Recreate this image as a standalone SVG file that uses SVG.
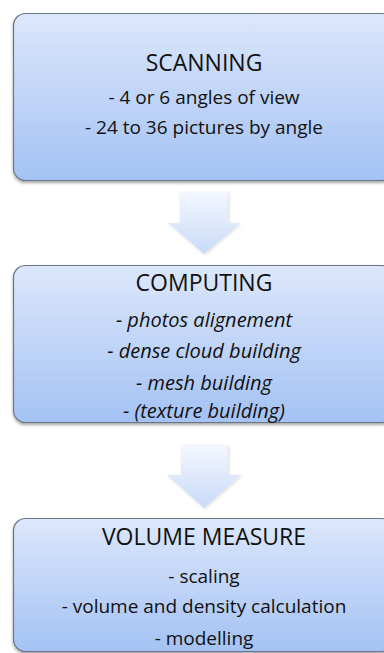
<svg xmlns="http://www.w3.org/2000/svg" width="384" height="653" viewBox="0 0 384 653">
<defs>
<linearGradient id="boxg" x1="0" y1="0" x2="0" y2="1">
<stop offset="0" stop-color="#dce7fb"/>
<stop offset="1" stop-color="#a4c2f4"/>
</linearGradient>
<linearGradient id="arrg" x1="0" y1="0" x2="0" y2="1">
<stop offset="0" stop-color="#f4f7fe"/>
<stop offset="1" stop-color="#c8daf8"/>
</linearGradient>
<filter id="sh" x="-10%" y="-10%" width="120%" height="130%">
<feDropShadow dx="0" dy="2" stdDeviation="1.5" flood-color="#000" flood-opacity="0.35"/>
</filter>
<filter id="ash" x="-20%" y="-20%" width="140%" height="140%">
<feDropShadow dx="1" dy="1" stdDeviation="1.5" flood-color="#000" flood-opacity="0.15"/>
</filter>
</defs>
<style>
.box{fill:url(#boxg);stroke:#6a7786;stroke-width:1.2;filter:url(#sh)}
.arr{fill:url(#arrg);filter:url(#ash)}
text{font-family:"Open Sans","Liberation Sans",sans-serif;fill:#111;text-anchor:middle}
.t{font-size:23px}
.b{font-size:19px}
.i{font-size:20px;font-style:italic}
</style>
<g id="connectors">
<path class="arr" d="M180,192 H228 V223 H240 L204,254 L168,223 H180 Z"/>
<path class="arr" d="M181,445 H228 V475 H241 L204,508 L167,475 H181 Z"/>
</g>
<g id="scanning">
<rect class="box" x="13.5" y="13.5" width="380" height="167" rx="12"/>
<text class="t" x="204" y="71">SCANNING</text>
<text class="b" x="204" y="104">- 4 or 6 angles of view</text>
<text class="b" x="204" y="134">- 24 to 36 pictures by angle</text>
</g>
<g id="computing">
<rect class="box" x="13.5" y="265.5" width="380" height="157" rx="12"/>
<text class="t" x="204" y="291">COMPUTING</text>
<text class="i" x="204" y="327">- photos alignement</text>
<text class="i" x="204" y="358">- dense cloud building</text>
<text class="i" x="204" y="390">- mesh building</text>
<text class="i" x="204" y="418">- (texture building)</text>
</g>
<g id="volume">
<rect class="box" x="13.5" y="518.5" width="380" height="133" rx="12"/>
<text class="t" x="204" y="545">VOLUME MEASURE</text>
<text class="b" x="204" y="583">- scaling</text>
<text class="b" x="204" y="613">- volume and density calculation</text>
<text class="b" x="204" y="645">- modelling</text>
</g>
</svg>
